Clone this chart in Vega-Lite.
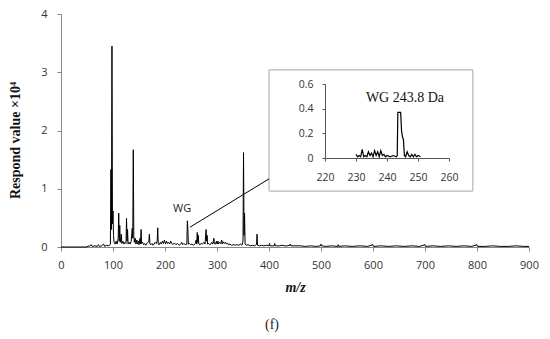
{
  "$schema": "https://vega.github.io/schema/vega-lite/v6.json",
  "width": 468,
  "height": 233,
  "autosize": {"type": "none"},
  "padding": {"left": 61, "top": 14, "right": 21, "bottom": 92},
  "background": "white",
  "config": {
    "view": {"stroke": null},
    "axis": {"grid": false, "domainColor": "#868686", "tickColor": "#868686", "labelColor": "#333333", "labelFont": "Open Sans", "labelFontSize": 11, "tickSize": 4, "labelFlush": false}
  },
  "title": {"text": "(f)", "orient": "bottom", "font": "Liberation Serif", "fontSize": 14, "fontWeight": "normal", "color": "#222222", "dx": -23, "offset": 24},
  "datasets": {
    "main": [
      {"mz":0,"v":0},{"mz":50,"v":0},{"mz":52,"v":0.02},{"mz":55,"v":0.01},{"mz":58,"v":0.04},{"mz":60,"v":0.01},{"mz":65,"v":0.02},{"mz":70,"v":0.01},{"mz":72,"v":0.04},{"mz":74,"v":0.01},{"mz":78,"v":0.02},{"mz":82,"v":0.05},{"mz":84,"v":0.01},{"mz":88,"v":0.03},{"mz":92,"v":0.02},{"mz":95,"v":0.05},
      {"mz":96,"v":1.33},{"mz":97,"v":0.3},{"mz":98,"v":3.45},{"mz":99,"v":0.4},{"mz":100,"v":0.62},{"mz":101,"v":0.2},{"mz":102,"v":0.08},{"mz":104,"v":0.05},{"mz":106,"v":0.1},{"mz":108,"v":0.05},{"mz":110,"v":0.15},{"mz":111,"v":0.58},{"mz":112,"v":0.1},{"mz":113,"v":0.37},{"mz":114,"v":0.08},{"mz":116,"v":0.22},{"mz":117,"v":0.06},{"mz":119,"v":0.1},{"mz":121,"v":0.05},{"mz":123,"v":0.08},{"mz":125,"v":0.06},{"mz":126,"v":0.49},{"mz":127,"v":0.1},{"mz":128,"v":0.3},{"mz":129,"v":0.05},{"mz":131,"v":0.08},{"mz":133,"v":0.05},{"mz":135,"v":0.1},{"mz":137,"v":0.32},{"mz":138,"v":0.15},{"mz":139,"v":1.67},{"mz":140,"v":0.2},{"mz":141,"v":0.08},{"mz":143,"v":0.15},{"mz":144,"v":0.05},{"mz":146,"v":0.12},{"mz":147,"v":0.05},{"mz":149,"v":0.1},{"mz":150,"v":0.04},{"mz":152,"v":0.15},{"mz":153,"v":0.05},{"mz":154,"v":0.3},{"mz":155,"v":0.06},{"mz":157,"v":0.08},{"mz":159,"v":0.04},{"mz":161,"v":0.06},{"mz":163,"v":0.03},{"mz":165,"v":0.06},{"mz":167,"v":0.08},{"mz":169,"v":0.1},{"mz":170,"v":0.22},{"mz":171,"v":0.05},{"mz":173,"v":0.04},{"mz":175,"v":0.06},{"mz":177,"v":0.03},{"mz":179,"v":0.05},{"mz":181,"v":0.08},{"mz":183,"v":0.06},{"mz":185,"v":0.1},{"mz":186,"v":0.33},{"mz":187,"v":0.05},{"mz":189,"v":0.04},{"mz":191,"v":0.08},{"mz":193,"v":0.05},{"mz":195,"v":0.1},{"mz":197,"v":0.06},{"mz":199,"v":0.12},{"mz":201,"v":0.05},{"mz":203,"v":0.1},{"mz":205,"v":0.06},{"mz":207,"v":0.08},{"mz":209,"v":0.05},{"mz":211,"v":0.1},{"mz":213,"v":0.06},{"mz":215,"v":0.04},{"mz":218,"v":0.07},{"mz":221,"v":0.04},{"mz":224,"v":0.06},{"mz":227,"v":0.03},{"mz":230,"v":0.05},{"mz":232,"v":0.08},{"mz":234,"v":0.04},{"mz":236,"v":0.06},{"mz":238,"v":0.05},{"mz":240,"v":0.04},{"mz":242,"v":0.05},{"mz":243,"v":0.45},{"mz":244,"v":0.3},{"mz":245,"v":0.05},{"mz":247,"v":0.06},{"mz":249,"v":0.04},{"mz":252,"v":0.05},{"mz":255,"v":0.03},{"mz":258,"v":0.06},{"mz":260,"v":0.12},{"mz":261,"v":0.05},{"mz":262,"v":0.25},{"mz":263,"v":0.08},{"mz":264,"v":0.2},{"mz":265,"v":0.05},{"mz":267,"v":0.04},{"mz":270,"v":0.06},{"mz":272,"v":0.05},{"mz":275,"v":0.08},{"mz":277,"v":0.05},{"mz":279,"v":0.3},{"mz":280,"v":0.1},{"mz":281,"v":0.2},{"mz":282,"v":0.05},{"mz":284,"v":0.06},{"mz":286,"v":0.04},{"mz":288,"v":0.05},{"mz":290,"v":0.08},{"mz":292,"v":0.05},{"mz":294,"v":0.15},{"mz":295,"v":0.06},{"mz":297,"v":0.05},{"mz":299,"v":0.1},{"mz":300,"v":0.05},{"mz":302,"v":0.1},{"mz":303,"v":0.05},{"mz":305,"v":0.08},{"mz":307,"v":0.06},{"mz":309,"v":0.12},{"mz":310,"v":0.05},{"mz":312,"v":0.09},{"mz":314,"v":0.06},{"mz":316,"v":0.08},{"mz":318,"v":0.05},{"mz":320,"v":0.07},{"mz":322,"v":0.04},{"mz":325,"v":0.05},{"mz":328,"v":0.03},{"mz":332,"v":0.04},{"mz":335,"v":0.03},{"mz":338,"v":0.04},{"mz":342,"v":0.03},{"mz":345,"v":0.05},{"mz":348,"v":0.03},{"mz":350,"v":0.1},{"mz":351,"v":1.62},{"mz":352,"v":0.2},{"mz":353,"v":0.58},{"mz":354,"v":0.05},{"mz":356,"v":0.03},{"mz":360,"v":0.04},{"mz":364,"v":0.02},{"mz":368,"v":0.03},{"mz":372,"v":0.02},{"mz":376,"v":0.04},{"mz":377,"v":0.22},{"mz":378,"v":0.03},{"mz":382,"v":0.02},{"mz":386,"v":0.03},{"mz":390,"v":0.02},{"mz":395,"v":0.03},{"mz":400,"v":0.02},{"mz":401,"v":0.06},{"mz":402,"v":0.02},{"mz":406,"v":0.02},{"mz":410,"v":0.02},{"mz":411,"v":0.06},{"mz":412,"v":0.02},{"mz":420,"v":0.02},{"mz":425,"v":0.03},{"mz":430,"v":0.02},{"mz":435,"v":0.02},{"mz":440,"v":0.03},{"mz":441,"v":0.05},{"mz":442,"v":0.02},{"mz":450,"v":0.02},{"mz":460,"v":0.02},{"mz":470,"v":0.01},{"mz":480,"v":0.02},{"mz":490,"v":0.01},{"mz":499,"v":0.02},{"mz":500,"v":0.05},{"mz":501,"v":0.02},{"mz":510,"v":0.01},{"mz":520,"v":0.02},{"mz":532,"v":0.01},{"mz":533,"v":0.04},{"mz":534,"v":0.01},{"mz":545,"v":0.02},{"mz":560,"v":0.01},{"mz":575,"v":0.02},{"mz":590,"v":0.01},{"mz":600,"v":0.04},{"mz":601,"v":0.01},{"mz":615,"v":0.02},{"mz":630,"v":0.01},{"mz":645,"v":0.02},{"mz":660,"v":0.01},{"mz":675,"v":0.02},{"mz":690,"v":0.01},{"mz":700,"v":0.04},{"mz":701,"v":0.01},{"mz":715,"v":0.02},{"mz":730,"v":0.01},{"mz":745,"v":0.02},{"mz":760,"v":0.01},{"mz":775,"v":0.02},{"mz":790,"v":0.01},{"mz":800,"v":0.04},{"mz":801,"v":0.01},{"mz":815,"v":0.01},{"mz":830,"v":0.02},{"mz":845,"v":0.01},{"mz":860,"v":0.01},{"mz":875,"v":0.02},{"mz":890,"v":0.01},{"mz":900,"v":0.01}
    ],
    "inset": [
      {"mz":230,"v":0.03},{"mz":230.5,"v":0.01},{"mz":231,"v":0.02},{"mz":231.5,"v":0.01},{"mz":232,"v":0.07},{"mz":232.5,"v":0.01},{"mz":233,"v":0.02},{"mz":233.5,"v":0.01},{"mz":234,"v":0.05},{"mz":234.5,"v":0.02},{"mz":235,"v":0.04},{"mz":235.5,"v":0.01},{"mz":236,"v":0.06},{"mz":236.5,"v":0.02},{"mz":237,"v":0.05},{"mz":237.5,"v":0.01},{"mz":238,"v":0.06},{"mz":238.5,"v":0.02},{"mz":239,"v":0.03},{"mz":239.5,"v":0.01},{"mz":240,"v":0.02},{"mz":241,"v":0.01},{"mz":242,"v":0.02},{"mz":243,"v":0.01},{"mz":243.3,"v":0.02},{"mz":243.5,"v":0.37},{"mz":244.4,"v":0.37},{"mz":244.7,"v":0.22},{"mz":245,"v":0.17},{"mz":245.3,"v":0.15},{"mz":245.6,"v":0.02},{"mz":246,"v":0.01},{"mz":246.5,"v":0.05},{"mz":247,"v":0.02},{"mz":247.5,"v":0.01},{"mz":248,"v":0.03},{"mz":248.5,"v":0.01},{"mz":249,"v":0.03},{"mz":249.5,"v":0.01},{"mz":250,"v":0.02},{"mz":250.8,"v":0.01}
    ],
    "box": [{"mz": 400, "mz2": 792, "v": 0.96, "v2": 3.04}],
    "pointer": [{"mz": 248, "v": 0.34, "mz2": 400, "v2": 1.17}],
    "wg": [{"mz": 233, "v": 0.65, "label": "WG"}],
    "insetTitle": [{"mz": 245.8, "v": 0.49, "label": "WG 243.8 Da"}]
  },
  "layer": [
    {
      "layer": [
        {
          "data": {"name": "box"},
          "mark": {"type": "rect", "fill": "white", "stroke": "#a6a6a6", "strokeWidth": 1},
          "encoding": {
            "x": {"field": "mz", "type": "quantitative", "title": "m/z",
                  "scale": {"domain": [0, 900], "nice": false},
                  "axis": {"values": [0,100,200,300,400,500,600,700,800,900], "labelPadding": 8, "titleFont": "Liberation Serif", "titleFontStyle": "italic", "titleFontWeight": "bold", "titleFontSize": 14, "titleColor": "#111111", "titlePadding": 10}},
            "x2": {"field": "mz2"},
            "y": {"field": "v", "type": "quantitative", "title": "Respond value ×10⁴",
                  "scale": {"domain": [0, 4], "nice": false},
                  "axis": {"values": [0,1,2,3,4], "format": "d", "labelPadding": 10, "titleFont": "Liberation Serif", "titleFontWeight": "bold", "titleFontSize": 14, "titleColor": "#111111", "titleX": -46, "titleY": 126, "titleBaseline": "middle"}},
            "y2": {"field": "v2"}
          }
        },
        {
          "data": {"name": "main"},
          "mark": {"type": "line", "color": "black", "strokeWidth": 1},
          "encoding": {
            "x": {"field": "mz", "type": "quantitative", "title": "m/z"},
            "y": {"field": "v", "type": "quantitative", "title": "Respond value ×10⁴"}
          }
        },
        {
          "data": {"name": "pointer"},
          "mark": {"type": "rule", "color": "black", "strokeWidth": 1},
          "encoding": {
            "x": {"field": "mz", "type": "quantitative", "title": "m/z"},
            "x2": {"field": "mz2"},
            "y": {"field": "v", "type": "quantitative", "title": "Respond value ×10⁴"},
            "y2": {"field": "v2"}
          }
        },
        {
          "data": {"name": "wg"},
          "mark": {"type": "text", "font": "Open Sans", "fontSize": 11, "color": "#222222"},
          "encoding": {
            "x": {"field": "mz", "type": "quantitative", "title": "m/z"},
            "y": {"field": "v", "type": "quantitative", "title": "Respond value ×10⁴"},
            "text": {"field": "label"}
          }
        }
      ]
    },
    {
      "layer": [
        {
          "data": {"name": "inset"},
          "mark": {"type": "line", "color": "black", "strokeWidth": 1.2},
          "encoding": {
            "x": {"field": "mz", "type": "quantitative", "title": null,
                  "scale": {"domain": [220, 260], "range": [264, 388], "nice": false, "zero": false},
                  "axis": {"orient": "bottom", "offset": -89, "zindex": 2, "values": [220,230,240,250,260], "labelFontSize": 10.5, "tickSize": 3, "labelPadding": 11, "domainColor": "#555555", "tickColor": "#555555"}},
            "y": {"field": "v", "type": "quantitative", "title": null,
                  "scale": {"domain": [0, 0.6], "range": [144, 70], "nice": false},
                  "axis": {"orient": "left", "offset": -264, "zindex": 2, "values": [0,0.2,0.4,0.6], "format": "~g", "labelFontSize": 10.5, "tickSize": 3, "labelPadding": 9, "domainColor": "#555555", "tickColor": "#555555"}}
          }
        },
        {
          "data": {"name": "insetTitle"},
          "mark": {"type": "text", "font": "Liberation Serif", "fontSize": 14, "color": "#111111"},
          "encoding": {
            "x": {"field": "mz", "type": "quantitative", "title": null},
            "y": {"field": "v", "type": "quantitative", "title": null},
            "text": {"field": "label"}
          }
        }
      ]
    }
  ],
  "resolve": {"scale": {"x": "independent", "y": "independent"}, "axis": {"x": "independent", "y": "independent"}}
}
